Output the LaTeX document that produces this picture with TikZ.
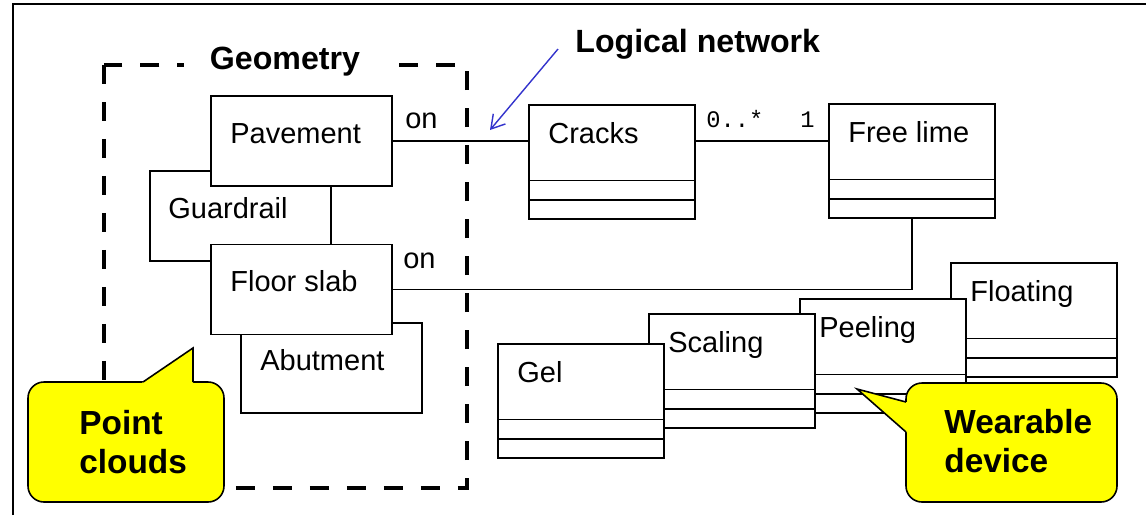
\documentclass[tikz,border=0pt]{standalone}
\usepackage{fontspec}
\setmainfont{Liberation Sans}
\newfontfamily\multfont{Liberation Mono}
\usetikzlibrary{arrows.meta,positioning}

\definecolor{noteyellow}{RGB}{255,255,0}
\definecolor{linkblue}{RGB}{51,51,204}

\tikzstyle{block} = [rectangle, draw, fill=white, line width=0.9pt, inner sep=0pt, minimum width=3.62cm, minimum height=1.8cm]
\tikzstyle{classbox} = [rectangle, draw, fill=white, line width=0.9pt, inner sep=0pt, minimum width=3.32cm, minimum height=2.28cm]
\tikzstyle{boxtext} = [inner sep=0pt, anchor=base west, font=\fontsize{16.5}{20}\selectfont]
\tikzstyle{multtext} = [inner sep=0pt, anchor=base west, font=\multfont\fontsize{13.5}{16}\selectfont]
\tikzstyle{heading} = [inner sep=0pt, font=\fontsize{18.3}{22}\selectfont\bfseries]
\tikzstyle{note} = [draw, fill=noteyellow, line width=0.9pt, rounded corners=0.32cm]
\tikzstyle{notetext} = [inner sep=0pt, anchor=base west, align=left, font=\fontsize{19}{22.1}\selectfont\bfseries]

% class box with two empty compartments
\newcommand{\umlclass}[4]{%
  \node[classbox, anchor=north west] (#1) at (#2,#3) {};
  \draw[line width=0.9pt] ([yshift=0.78cm]#1.south west) -- ([yshift=0.78cm]#1.south east);
  \draw[line width=0.9pt] ([yshift=0.39cm]#1.south west) -- ([yshift=0.39cm]#1.south east);
  \node[boxtext] (#1text) at (#2+20,#3+39) {#4};
}

\begin{document}
\begin{tikzpicture}[x=0.02cm, y=-0.02cm]
\useasboundingbox (0,0) rectangle (1146,515);
\draw[line width=1.1pt] (13,515) -- (13,4) -- (1146,4);

% geometry
\node[block, anchor=north west] (guardrail) at (149,170) {};
\node[boxtext] (guardrailtext) at (168,218) {Guardrail};
\node[block, anchor=north west] (abutment) at (240,322) {};
\node[boxtext] (abutmenttext) at (260,370) {Abutment};
\node[block, anchor=north west] (pavement) at (210,95) {};
\node[boxtext] (pavementtext) at (230,143) {Pavement};
\node[block, below=1.14cm of pavement] (floorslab) {};
\node[boxtext] (floorslabtext) at (230,291) {Floor slab};

% logical network
\umlclass{cracks}{528}{104}{Cracks}
\umlclass{freelime}{828}{103}{Free lime}
\umlclass{floating}{950}{262}{Floating}
\umlclass{peeling}{799}{298}{Peeling}
\umlclass{scaling}{648}{313}{Scaling}
\umlclass{gel}{497}{343}{Gel}

\draw[line width=0.9pt] (pavement.east) -- (pavement.east -| cracks.west);
\draw[line width=0.9pt] (cracks.east |- pavement.east) -- (freelime.west |- pavement.east);
\draw[line width=0.9pt] (freelime.south) |- (floorslab.east);
\node[boxtext] (ontop) at (405,128) {on};
\node[boxtext] (onbottom) at (403,268) {on};
\node[multtext] (manyend) at (706,127) {0..*};
\node[multtext] (oneend) at (800,127) {1};

\draw[line width=2.3pt, dash pattern=on 0.38cm off 0.36cm] (104,65) rectangle (467,488);
\node[heading, fill=white, inner xsep=0.52cm, anchor=base] (geometry) at (285,69) {Geometry};

\node[heading, anchor=base west] (lognet) at (575,52) {Logical network};
\coordinate (lognetfrom) at (558,49);
\coordinate (lognettip) at (490,130);
\draw[linkblue, line width=0.8pt, -{Straight Barb[length=7.5pt,width=9pt]}] (lognetfrom) -- (lognettip);

% callouts
\draw[note] (28,382) rectangle (224,502);
\fill[noteyellow] (141,384) -- (143,382) -- (193,348) -- (193,384) -- cycle;
\draw[line width=0.9pt] (143,382) -- (193,348) -- (193,382);
\node[notetext] (pointclouds) at (79,473) {Point\\clouds};

\draw[note] (906,383) rectangle (1117,502);
\fill[noteyellow] (908,402) -- (906,402) -- (857,389) -- (906,432) -- (908,432) -- cycle;
\draw[line width=0.9pt] (906,402) -- (857,389) -- (906,432);
\node[notetext] (wearable) at (944,472) {Wearable\\device};
\end{tikzpicture}
\end{document}
